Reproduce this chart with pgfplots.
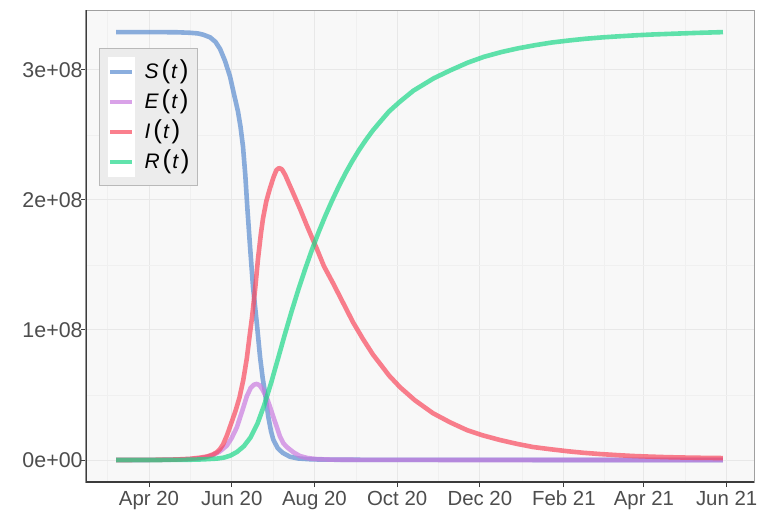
\documentclass[border=0pt]{standalone}
\usepackage{fontspec}
\setmainfont{Liberation Sans}
\usepackage{pgfplots}
\pgfplotsset{compat=1.18}
\definecolor{cS}{RGB}{91,140,208}
\definecolor{cE}{RGB}{201,123,223}
\definecolor{cI}{RGB}{249,73,94}
\definecolor{cR}{RGB}{30,216,137}
\definecolor{panelbg}{RGB}{248,248,248}
\definecolor{gridmaj}{RGB}{232,232,232}
\definecolor{gridmin}{RGB}{240,240,240}
\definecolor{bordercol}{RGB}{160,160,160}
\definecolor{axiscol}{RGB}{60,60,60}
\definecolor{tickcol}{RGB}{77,77,77}
\definecolor{legfill}{RGB}{236,236,236}
\definecolor{legborder}{RGB}{185,185,185}
\newcommand{\legp}[1]{{\fontsize{13}{13}\selectfont #1}}
\newcommand{\legtxt}[1]{\smash{\raisebox{-3.7pt}{\textit{#1}\kern1.5pt\legp{(}\kern0.5pt\textit{t}\kern1pt\legp{)}}}}
\begin{document}
\begin{tikzpicture}
\useasboundingbox (-43pt,-14pt) rectangle (337pt,241pt);
\begin{axis}[
  at={(0,0)}, anchor=south west,
  scale only axis, width=334pt, height=236pt,
  xmin=-46.5, xmax=446.2, ymin=-0.169, ymax=3.46,
  axis background/.style={fill=panelbg},
  xtick={0,61,122,183,244,306,365,426},
  xticklabels={Apr 20,Jun 20,Aug 20,Oct 20,Dec 20,Feb 21,Apr 21,Jun 21},
  minor xtick={-30.5,30.5,91.5,152.5,213.5,275,335.5,395.5},
  ytick={0,1,2,3},
  yticklabels={0e+00,1e+08,2e+08,3e+08},
  minor ytick={0.5,1.5,2.5},
  grid=both,
  major grid style={draw=gridmaj, line width=0.5pt},
  minor grid style={draw=gridmin, line width=0.3pt},
  tick align=outside, major tick length=2.5pt, minor tick length=0pt,
  xtick pos=left, ytick pos=left,
  tick style={draw=axiscol, line width=0.5pt},
  axis line style={draw=bordercol, line width=0.5pt},
  ticklabel style={text=tickcol},
  yticklabel style={font=\fontsize{10.7}{12}\selectfont, inner xsep=0.5pt, xshift=1.5pt},
  xticklabel style={font=\fontsize{10.2}{12}\selectfont, yshift=1.5pt},
  every axis plot/.append style={line width=2.3pt, opacity=0.7, line join=round},
  legend cell align=left,
  legend style={at={(0.0195,0.9195)}, anchor=north west,
    draw=legborder, fill=legfill, line width=0.5pt,
    inner xsep=4pt, inner ysep=4.3pt,
    font=\fontsize{10.5}{12}\selectfont, row sep=0pt,
    nodes={inner sep=0pt},
    /tikz/every odd column/.append style={column sep=5pt}},
  legend image code/.code={
    \begin{pgfinterruptboundingbox}
    \fill[white, draw=none, opacity=1] (-1.25pt,-7.6pt) rectangle (12.25pt,7.6pt);
    \end{pgfinterruptboundingbox}
    \path[draw=none, fill=none] (-1.25pt,-7.5pt) rectangle (12.25pt,7.5pt);
    \draw[#1] (0pt,0pt) -- (11pt,0pt);
  },
]
\addplot[cS] coordinates {(-24.3,3.29)(0,3.29)(20,3.289)(30,3.285)(36,3.28)(40,3.27)(45,3.25)(49,3.215)(52.4,3.16)(56,3.07)(59.7,2.95)(62.5,2.82)(65.6,2.68)(67.5,2.56)(69.3,2.41)(71,2.19)(72.5,1.94)(74.5,1.64)(76.7,1.33)(79.6,1.04)(81.9,0.79)(83.8,0.63)(85.5,0.52)(88,0.33)(90,0.22)(91.7,0.155)(95,0.09)(98.6,0.055)(104,0.025)(110,0.012)(120,0.005)(140,0.002)(200,0.001)(300,0.0005)(423.3,0.0004)};
\addlegendentry{\legtxt{S}}
\addplot[cE] coordinates {(-24.3,0)(0,0.0005)(20,0.003)(30,0.007)(37.6,0.013)(42,0.022)(47.2,0.038)(52,0.065)(57.3,0.11)(61,0.17)(64.7,0.25)(68.5,0.37)(72.1,0.49)(75,0.555)(77.5,0.58)(79.6,0.585)(81.5,0.575)(83.5,0.545)(86.8,0.48)(89.5,0.40)(91.7,0.33)(94.2,0.255)(96.6,0.18)(99,0.13)(101.6,0.10)(106.4,0.06)(111.4,0.03)(117,0.015)(123.7,0.007)(135,0.003)(160,0.001)(250,0.0003)(423.3,0.0001)};
\addlegendentry{\legtxt{E}}
\addplot[cI] coordinates {(-24.3,0.0002)(0,0.001)(20,0.004)(30,0.009)(37.6,0.018)(42.8,0.027)(47,0.042)(50,0.06)(52.4,0.085)(54.6,0.12)(57.5,0.19)(61.2,0.30)(64,0.385)(66.7,0.48)(69.5,0.615)(72.1,0.78)(74,0.94)(76,1.10)(78.2,1.31)(80.4,1.55)(82.5,1.74)(84.1,1.86)(86.5,1.99)(89.2,2.09)(92,2.18)(94,2.23)(95.9,2.245)(98,2.235)(100.5,2.19)(103,2.13)(106.4,2.05)(111.4,1.93)(116.5,1.80)(123.9,1.62)(129,1.49)(135.7,1.36)(146,1.15)(150.4,1.06)(157.8,0.93)(165.2,0.81)(170.4,0.74)(177,0.65)(185.1,0.56)(196,0.46)(209.4,0.36)(222,0.29)(234.5,0.23)(246,0.19)(258.8,0.154)(271,0.125)(283.2,0.10)(296,0.083)(308.3,0.068)(320,0.056)(332.6,0.046)(345,0.038)(356.9,0.031)(370,0.026)(382,0.022)(400,0.018)(423.3,0.015)};
\addlegendentry{\legtxt{I}}
\addplot[cR] coordinates {(-24.3,0)(0,0.0002)(20,0.001)(30,0.002)(40,0.005)(50,0.011)(55,0.018)(60,0.034)(65,0.063)(70,0.107)(75,0.176)(80,0.281)(85,0.424)(90,0.592)(95,0.775)(100,0.96)(105,1.138)(110,1.306)(115,1.464)(120,1.612)(125,1.75)(130,1.877)(135,1.995)(140,2.105)(145,2.207)(150,2.30)(155,2.385)(160,2.462)(165,2.533)(170,2.595)(177,2.68)(185,2.755)(195,2.84)(210,2.935)(222,2.995)(235,3.055)(247,3.10)(260,3.137)(272,3.165)(285,3.19)(297,3.21)(310,3.226)(322,3.239)(335,3.25)(347,3.258)(360,3.266)(372,3.272)(385,3.277)(404,3.284)(423.3,3.29)};
\addlegendentry{\legtxt{R}}
\draw[axiscol, line width=0.6pt] (rel axis cs:0,1) -- (rel axis cs:0,0) -- (rel axis cs:1,0);
\end{axis}
\end{tikzpicture}
\end{document}
